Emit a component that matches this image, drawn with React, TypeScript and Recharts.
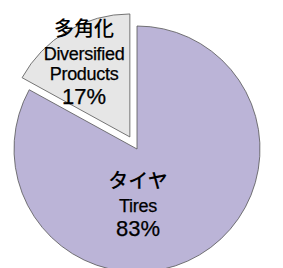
import { PieChart, Pie, Cell } from "recharts";

const CATEGORIES = ["Tires", "Diversified Products"];
const JA_NAMES = ["タイヤ", "多角化"];
const EN_LINES = [["Tires"], ["Diversified", "Products"]];
const VALUES = [83, 17];

const COLORS = ["#bbb4d7", "#e6e6e6"];
const FONT = '"Liberation Sans", Arial, "Noto Sans CJK JP", sans-serif';
const JA_FONT = '"Noto Sans CJK JP", sans-serif';

const data = CATEGORIES.map((name, i) => ({ name, value: VALUES[i] }));
const total = VALUES.reduce((s, v) => s + v, 0);

// explode the small slice along its mid angle
const EXPLODE = 14;
const before = VALUES.slice(0, 1).reduce((s, v) => s + v, 0);
const midDeg = 90 - (360 * (before + VALUES[1] / 2)) / total;
const dx = EXPLODE * Math.cos((midDeg * Math.PI) / 180);
const dy = -EXPLODE * Math.sin((midDeg * Math.PI) / 180);

const CX = 137;
const CY = 149;
const R = 123;

const renderLabel = (which: number) => (props: any) => {
  const { cx, cy, midAngle, index } = props;
  if (index !== which) return null;
  const pct = `${Math.round((VALUES[index] / total) * 100)}%`;
  let x: number;
  let y: number;
  if (index === 0) {
    x = cx + 1;
    y = cy + 56;
  } else {
    const rad = (midAngle * Math.PI) / 180;
    x = cx + 90 * Math.cos(rad);
    y = cy - 90 * Math.sin(rad);
  }
  const en = EN_LINES[index];
  const top = index === 0 ? y - 17 : y - 23;
  return (
    <text textAnchor="middle" fill="#000" fontFamily={FONT}>
      <tspan x={x} y={top} fontSize={20} fontFamily={JA_FONT} fontWeight={500}>
        {JA_NAMES[index]}
      </tspan>
      {en.map((line, i) => (
        <tspan
          key={line}
          x={x}
          y={top + 24 + i * 20}
          fontSize={18}
          letterSpacing={-0.3}
          stroke="#000"
          strokeWidth={0.25}
        >
          {line}
        </tspan>
      ))}
      <tspan
        x={x}
        y={top + 24 + (en.length - 1) * 20 + 24}
        fontSize={22}
        stroke="#000"
        strokeWidth={0.25}
      >
        {pct}
      </tspan>
    </text>
  );
};

export default function App() {
  return (
    <div style={{ position: "absolute", left: 0, top: 0, background: "#fff" }}>
      <PieChart width={283} height={268} margin={{ top: 0, right: 0, bottom: 0, left: 0 }}>
        <Pie
          data={data}
          dataKey="value"
          cx={CX}
          cy={CY}
          outerRadius={R}
          startAngle={90}
          endAngle={-270}
          isAnimationActive={false}
          labelLine={false}
          label={renderLabel(0)}
        >
          {data.map((_, i) => (
            <Cell
              key={i}
              fill={i === 0 ? COLORS[0] : "none"}
              stroke={i === 0 ? "#555" : "none"}
              strokeWidth={0.8}
            />
          ))}
        </Pie>
        <Pie
          data={data}
          dataKey="value"
          cx={CX + dx}
          cy={CY + dy}
          outerRadius={R}
          startAngle={90}
          endAngle={-270}
          isAnimationActive={false}
          labelLine={false}
          label={renderLabel(1)}
        >
          {data.map((_, i) => (
            <Cell
              key={i}
              fill={i === 1 ? COLORS[1] : "none"}
              stroke={i === 1 ? "#555" : "none"}
              strokeWidth={0.8}
            />
          ))}
        </Pie>
      </PieChart>
    </div>
  );
}
